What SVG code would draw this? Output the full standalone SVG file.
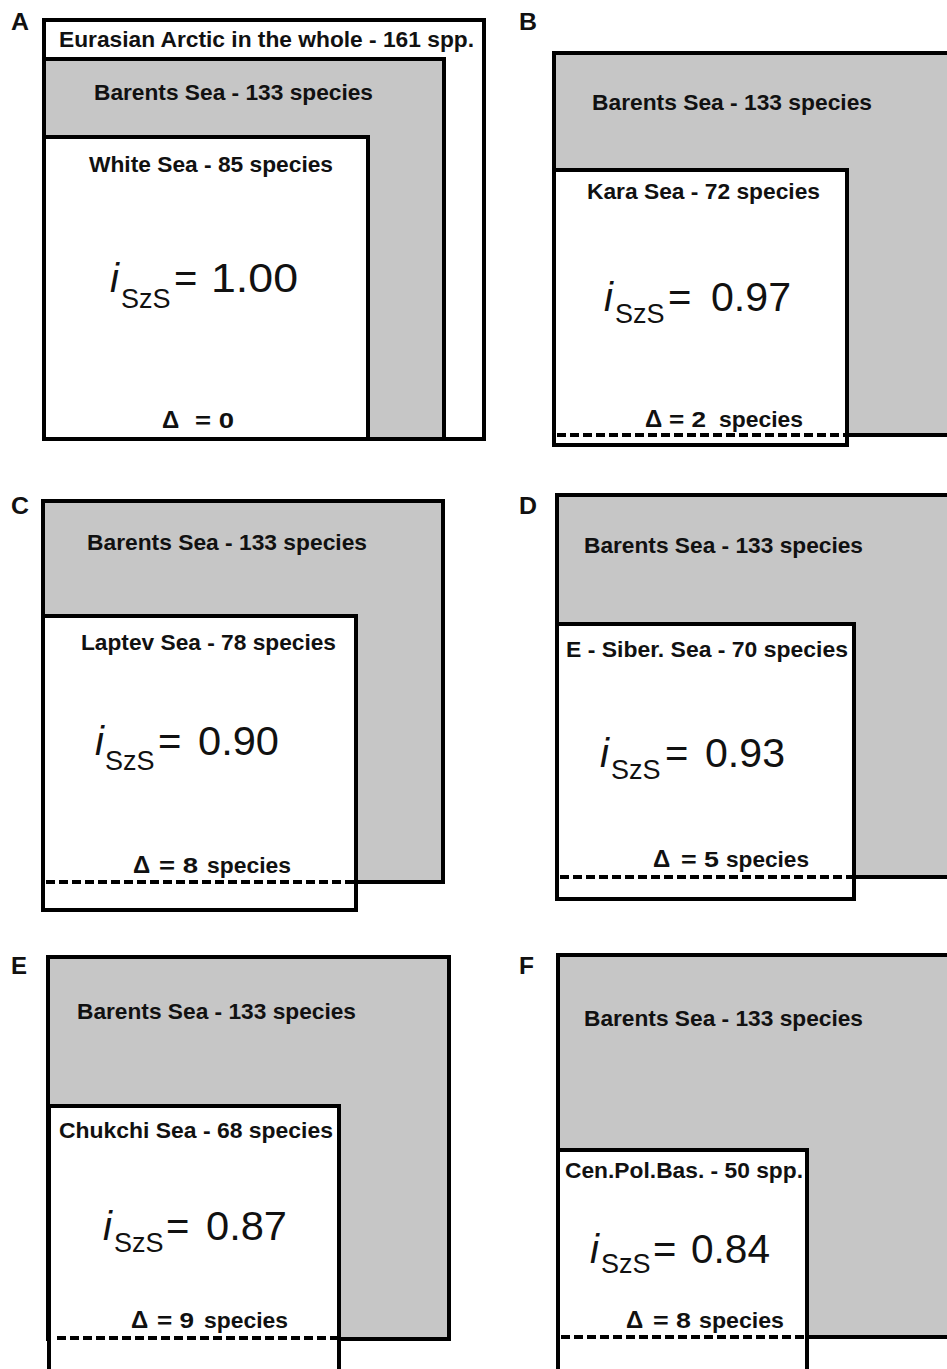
<svg xmlns="http://www.w3.org/2000/svg" width="947" height="1369" viewBox="0 0 947 1369">
<style>
.bg{fill:#ffffff}
.box{stroke:#000;stroke-width:4;fill:#ffffff}
.grey{stroke:#000;stroke-width:4;fill:#c6c6c6}
.dash{stroke:#000;stroke-width:4;stroke-dasharray:9 4;fill:none}
.lbl{font-family:"Liberation Sans",Arial,sans-serif;font-weight:bold;font-size:22px;fill:#111}
.dl{font-family:"Liberation Sans",Arial,sans-serif;font-weight:bold;font-size:24px;fill:#111}
.pl{font-family:"Liberation Sans",Arial,sans-serif;font-weight:bold;font-size:23px;fill:#111}
.ii{font-family:"Liberation Sans",Arial,sans-serif;font-style:italic;font-size:40px;fill:#111}
.sub{font-family:"Liberation Sans",Arial,sans-serif;font-size:27px;fill:#111}
.big{font-family:"Liberation Sans",Arial,sans-serif;font-size:40px;fill:#111}
</style>
<rect class="bg" x="0" y="0" width="947" height="1369"/>

<!-- Panel A -->
<g id="panelA">
  <text class="pl" x="11" y="30" textLength="18" lengthAdjust="spacingAndGlyphs">A</text>
  <g id="A-eurasian">
    <rect class="box" x="44" y="20" width="440" height="419"/>
    <text class="lbl" x="59" y="47" textLength="415" lengthAdjust="spacingAndGlyphs">Eurasian Arctic in the whole - 161 spp.</text>
  </g>
  <g id="A-barents">
    <rect class="grey" x="44" y="59" width="400" height="380"/>
    <text class="lbl" x="94" y="100" textLength="279" lengthAdjust="spacingAndGlyphs">Barents Sea - 133 species</text>
  </g>
  <g id="A-white">
    <rect class="box" x="44" y="137" width="324" height="302"/>
    <text class="lbl" x="89" y="172" textLength="244" lengthAdjust="spacingAndGlyphs">White Sea - 85 species</text>
    <text class="ii" x="110" y="292">i</text>
    <text class="sub" x="121" y="308">SzS</text>
    <text class="big" x="174" y="292">=</text>
    <text class="big" x="211" y="292" textLength="87" lengthAdjust="spacingAndGlyphs">1.00</text>
    <text class="dl" x="162" y="428">Δ</text>
    <text class="lbl" x="195" y="428" textLength="39" lengthAdjust="spacingAndGlyphs">= 0</text>
  </g>
</g>

<!-- Panel B -->
<g id="panelB">
  <text class="pl" x="519" y="30" textLength="18" lengthAdjust="spacingAndGlyphs">B</text>
  <g id="B-barents">
    <rect class="grey" x="554" y="53" width="420" height="382"/>
    <text class="lbl" x="592" y="110" textLength="280" lengthAdjust="spacingAndGlyphs">Barents Sea - 133 species</text>
  </g>
  <g id="B-kara">
    <rect class="box" x="554" y="170" width="293" height="275"/>
    <text class="lbl" x="587" y="199" textLength="233" lengthAdjust="spacingAndGlyphs">Kara Sea - 72 species</text>
    <text class="ii" x="604" y="311">i</text>
    <text class="sub" x="615" y="323">SzS</text>
    <text class="big" x="668" y="311">=</text>
    <text class="big" x="711" y="311" textLength="80" lengthAdjust="spacingAndGlyphs">0.97</text>
    <text class="dl" x="645" y="427">Δ</text>
    <text class="lbl" x="669" y="427" textLength="37" lengthAdjust="spacingAndGlyphs">= 2</text>
    <text class="lbl" x="719" y="427" textLength="84" lengthAdjust="spacingAndGlyphs">species</text>
    <line class="dash" x1="557" y1="435" x2="845" y2="435"/>
  </g>
</g>

<!-- Panel C -->
<g id="panelC">
  <text class="pl" x="11" y="514" textLength="18" lengthAdjust="spacingAndGlyphs">C</text>
  <g id="C-barents">
    <rect class="grey" x="43" y="501" width="400" height="381"/>
    <text class="lbl" x="87" y="550" textLength="280" lengthAdjust="spacingAndGlyphs">Barents Sea - 133 species</text>
  </g>
  <g id="C-laptev">
    <rect class="box" x="43" y="616" width="313" height="294"/>
    <text class="lbl" x="81" y="650" textLength="255" lengthAdjust="spacingAndGlyphs">Laptev Sea - 78 species</text>
    <text class="ii" x="95" y="755">i</text>
    <text class="sub" x="105" y="770">SzS</text>
    <text class="big" x="158" y="755">=</text>
    <text class="big" x="198" y="755" textLength="81" lengthAdjust="spacingAndGlyphs">0.90</text>
    <text class="dl" x="133" y="873">Δ</text>
    <text class="lbl" x="159" y="873" textLength="39" lengthAdjust="spacingAndGlyphs">= 8</text>
    <text class="lbl" x="207" y="873" textLength="84" lengthAdjust="spacingAndGlyphs">species</text>
    <line class="dash" x1="46" y1="882" x2="354" y2="882"/>
  </g>
</g>

<!-- Panel D -->
<g id="panelD">
  <text class="pl" x="519" y="514" textLength="18" lengthAdjust="spacingAndGlyphs">D</text>
  <g id="D-barents">
    <rect class="grey" x="557" y="495" width="420" height="382"/>
    <text class="lbl" x="584" y="553" textLength="279" lengthAdjust="spacingAndGlyphs">Barents Sea - 133 species</text>
  </g>
  <g id="D-esiber">
    <rect class="box" x="557" y="624" width="297" height="275"/>
    <text class="lbl" x="566" y="657" textLength="282" lengthAdjust="spacingAndGlyphs">E - Siber. Sea - 70 species</text>
    <text class="ii" x="600" y="767">i</text>
    <text class="sub" x="611" y="779">SzS</text>
    <text class="big" x="665" y="767">=</text>
    <text class="big" x="705" y="767" textLength="80" lengthAdjust="spacingAndGlyphs">0.93</text>
    <text class="dl" x="653" y="867">Δ</text>
    <text class="lbl" x="681" y="867" textLength="38" lengthAdjust="spacingAndGlyphs">= 5</text>
    <text class="lbl" x="726" y="867" textLength="83" lengthAdjust="spacingAndGlyphs">species</text>
    <line class="dash" x1="560" y1="877" x2="852" y2="877"/>
  </g>
</g>

<!-- Panel E -->
<g id="panelE">
  <text class="pl" x="11" y="974" textLength="16" lengthAdjust="spacingAndGlyphs">E</text>
  <g id="E-barents">
    <rect class="grey" x="48" y="957" width="401" height="382"/>
    <text class="lbl" x="77" y="1019" textLength="279" lengthAdjust="spacingAndGlyphs">Barents Sea - 133 species</text>
  </g>
  <g id="E-chukchi">
    <rect class="box" x="49" y="1106" width="290" height="300"/>
    <text class="lbl" x="59" y="1138" textLength="274" lengthAdjust="spacingAndGlyphs">Chukchi Sea - 68 species</text>
    <text class="ii" x="103" y="1240">i</text>
    <text class="sub" x="114" y="1252">SzS</text>
    <text class="big" x="166" y="1240">=</text>
    <text class="big" x="206" y="1240" textLength="81" lengthAdjust="spacingAndGlyphs">0.87</text>
    <text class="dl" x="131" y="1328">Δ</text>
    <text class="lbl" x="157" y="1328" textLength="37" lengthAdjust="spacingAndGlyphs">= 9</text>
    <text class="lbl" x="204" y="1328" textLength="84" lengthAdjust="spacingAndGlyphs">species</text>
    <line class="dash" x1="57" y1="1338" x2="337" y2="1338"/>
  </g>
</g>

<!-- Panel F -->
<g id="panelF">
  <text class="pl" x="519" y="974" textLength="15" lengthAdjust="spacingAndGlyphs">F</text>
  <g id="F-barents">
    <rect class="grey" x="558" y="955" width="420" height="382"/>
    <text class="lbl" x="584" y="1026" textLength="279" lengthAdjust="spacingAndGlyphs">Barents Sea - 133 species</text>
  </g>
  <g id="F-cenpol">
    <rect class="box" x="558" y="1150" width="249" height="250"/>
    <text class="lbl" x="565" y="1178" textLength="238" lengthAdjust="spacingAndGlyphs">Cen.Pol.Bas. - 50 spp.</text>
    <text class="ii" x="590" y="1263">i</text>
    <text class="sub" x="601" y="1273">SzS</text>
    <text class="big" x="653" y="1263">=</text>
    <text class="big" x="691" y="1263" textLength="79" lengthAdjust="spacingAndGlyphs">0.84</text>
    <text class="dl" x="626" y="1328">Δ</text>
    <text class="lbl" x="653" y="1328" textLength="38" lengthAdjust="spacingAndGlyphs">= 8</text>
    <text class="lbl" x="699" y="1328" textLength="85" lengthAdjust="spacingAndGlyphs">species</text>
    <line class="dash" x1="561" y1="1337" x2="805" y2="1337"/>
  </g>
</g>
</svg>
